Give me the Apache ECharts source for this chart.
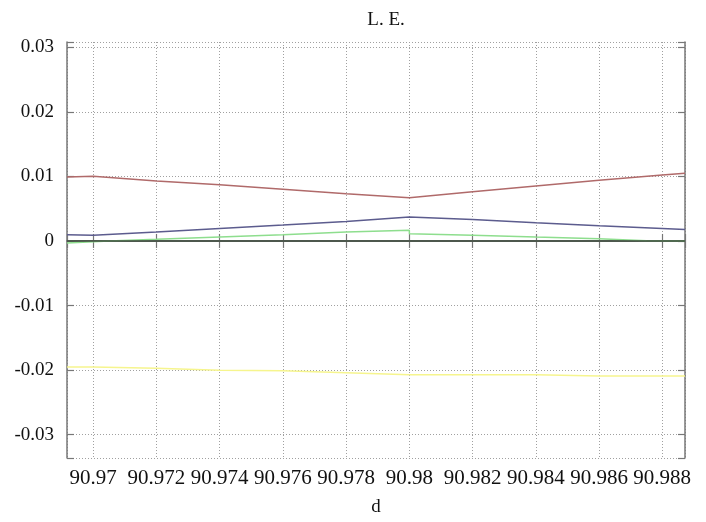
<!DOCTYPE html>
<html>
<head>
<meta charset="utf-8">
<script src="https://cdn.jsdelivr.net/npm/echarts@6/dist/echarts.min.js"></script>
<style>
  html, body { margin: 0; padding: 0; background: #fff; }
  #chart { width: 706px; height: 522px; }
</style>
</head>
<body>
<div id="chart"></div>
<script>
// x samples (d) shared by most curves
const dValues = [90.96917, 90.97, 90.972, 90.974, 90.976, 90.978, 90.98, 90.982, 90.984, 90.986, 90.988, 90.98872]
const redValues = [0.0099, 0.0100, 0.0093, 0.0087, 0.0080, 0.0073, 0.0067, 0.0076, 0.0085, 0.0094, 0.0102, 0.0105]
const blueValues = [0.00097, 0.00090, 0.00139, 0.00194, 0.00247, 0.00302, 0.00370, 0.00333, 0.00282, 0.00236, 0.00194, 0.00179]
const yellowValues = [-0.0195, -0.0195, -0.0197, -0.0200, -0.0201, -0.0204, -0.0207, -0.0207, -0.0207, -0.0209, -0.0209, -0.0209]
const zeroValues = [0, 0, 0, 0, 0, 0, 0, 0, 0, 0, 0, 0]
// green has a small jump at 90.98
const greenD = [90.96917, 90.9705, 90.972, 90.974, 90.976, 90.978, 90.98, 90.98, 90.982, 90.984, 90.986, 90.9875, 90.98872]
const greenValues = [-0.0003, 0, 0.00025, 0.0006, 0.00097, 0.0014, 0.00165, 0.00113, 0.0009, 0.0006, 0.00035, 0.00005, 0]

const xTickStep = 0.002
const yTickStep = 0.01

const pair = (xs, ys) => xs.map((x, i) => [x, ys[i]])
const onStep = (v, step) => Math.abs(v / step - Math.round(v / step)) < 1e-6

const font = '"Liberation Serif", "DejaVu Serif", serif'
const frame = { show: true, lineStyle: { color: '#777', width: 1.5 } }
const tickIn = { show: true, inside: true, length: 7, lineStyle: { color: '#777', width: 1.2 } }
const dotted = { show: true, lineStyle: { color: '#a0a0a0', type: [1, 2], width: 1 } }

const chart = echarts.init(document.getElementById('chart'))

function line(name, data, color) {
  return {
    name, type: 'line', data, showSymbol: false, symbol: 'none',
    lineStyle: { color, width: 1.5 }, itemStyle: { color },
    animation: false, silent: true,
  }
}

chart.setOption({
  animation: false,
  title: {
    text: 'L. E.', left: 381, top: 6, textAlign: 'center',
    textStyle: { fontFamily: font, fontSize: 19, fontWeight: 'normal', color: '#111' },
  },
  grid: { left: 67, right: 21, top: 42, bottom: 62 },
  xAxis: [
    {
      type: 'value', min: 90.96917, max: 90.98872, minInterval: xTickStep, maxInterval: xTickStep,
      name: 'd', nameLocation: 'middle', nameGap: 40,
      nameTextStyle: { fontFamily: font, fontSize: 19, color: '#111' },
      axisLine: frame, axisTick: tickIn, splitLine: dotted,
      axisLabel: {
        fontFamily: font, fontSize: 21, color: '#111', margin: 10,
        showMinLabel: true, showMaxLabel: true,
        formatter: v => onStep(v, xTickStep) ? String(parseFloat(v.toFixed(3))) : '',
      },
    },
    {
      type: 'value', position: 'top', min: 90.96917, max: 90.98872,
      minInterval: xTickStep, maxInterval: xTickStep,
      axisLine: frame, axisTick: tickIn, axisLabel: { show: false }, splitLine: { show: false },
    },
  ],
  yAxis: [
    {
      type: 'value', min: -0.0336, max: 0.0308, minInterval: yTickStep, maxInterval: yTickStep,
      axisLine: frame, axisTick: tickIn, splitLine: dotted,
      axisLabel: {
        fontFamily: font, fontSize: 19, color: '#111', margin: 13,
        formatter: v => onStep(v, yTickStep) ? (Math.abs(v) < 1e-9 ? '0' : String(parseFloat(v.toFixed(2)))) : '',
      },
    },
    {
      type: 'value', position: 'right', min: -0.0336, max: 0.0308,
      minInterval: yTickStep, maxInterval: yTickStep,
      axisLine: frame, axisTick: tickIn, axisLabel: { show: false }, splitLine: { show: false },
    },
  ],
  series: [
    line('yellow', pair(dValues, yellowValues), '#f6f58e'),
    line('red', pair(dValues, redValues), '#b06a6a'),
    line('blue', pair(dValues, blueValues), '#5c5c8e'),
    line('green', pair(greenD, greenValues), '#8ede8e'),
    line('zero', pair(dValues, zeroValues), '#3f4d3f'),
  ],
})
</script>
</body>
</html>
